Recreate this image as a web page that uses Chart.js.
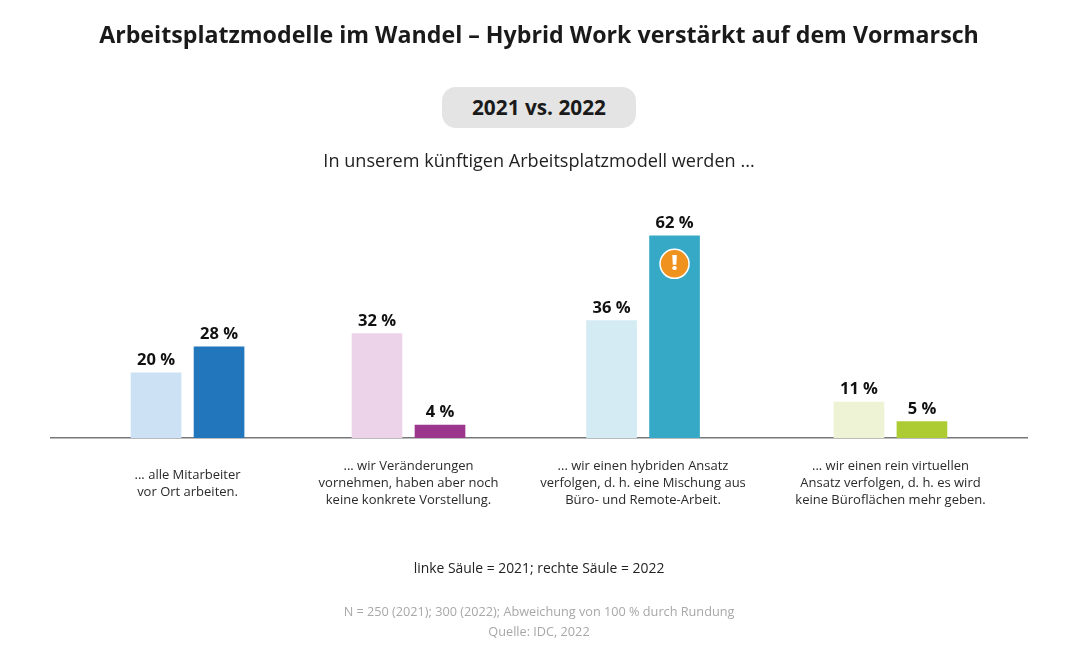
<!DOCTYPE html>
<html lang="de">
<head>
<meta charset="utf-8">
<title>Arbeitsplatzmodelle im Wandel</title>
<script src="https://cdn.jsdelivr.net/npm/chart.js@4/dist/chart.umd.min.js"></script>
<style>
    body{ margin:0; background:#fff; font-family:"Open Sans", sans-serif; color:#1a1a1a; }
    #seite{ position:relative; width:1080px; height:660px; overflow:hidden; }
    canvas{ position:absolute; left:0; top:0; }
    .text{ position:absolute; left:0; width:1080px; text-align:center; white-space:nowrap; }
    #titel{ top:18px; left:-1px; font-size:23.2px; line-height:32px; font-weight:700; }
    #pille{ position:absolute; left:442px; top:87px; width:194px; height:41px; line-height:41px; border-radius:14px; background:#e4e4e4; text-align:center; font-size:20.8px; font-weight:700; }
    #frage{ top:147px; left:-1px; font-size:18.1px; line-height:26px; color:#222; }
    #legende{ top:558px; left:-1px; font-size:13.9px; line-height:20px; color:#222; }
    #quelle{ top:601px; left:-1px; font-size:12.7px; line-height:20px; color:#a8a8a8; }
</style>
</head>
<body>
<div id="seite">
    <canvas id="grafik" width="1080" height="660"></canvas>
    <div class="text" id="titel">Arbeitsplatzmodelle im Wandel – Hybrid Work verstärkt auf dem Vormarsch</div>
    <div id="pille">2021 vs. 2022</div>
    <div class="text" id="frage">In unserem künftigen Arbeitsplatzmodell werden ...</div>
    <div class="text" id="legende">linke Säule = 2021; rechte Säule = 2022</div>
    <div class="text" id="quelle">N = 250 (2021); 300 (2022); Abweichung von 100 % durch Rundung<br>Quelle: IDC, 2022</div>
</div>

<script>
const kategorien = [
    ['... alle Mitarbeiter', 'vor Ort arbeiten.'],
    ['... wir Veränderungen', 'vornehmen, haben aber noch', 'keine konkrete Vorstellung.'],
    ['... wir einen hybriden Ansatz', 'verfolgen, d. h. eine Mischung aus', 'Büro- und Remote-Arbeit.'],
    ['... wir einen rein virtuellen', 'Ansatz verfolgen, d. h. es wird', 'keine Büroflächen mehr geben.']
];
const werte2021 = [20, 32, 36, 11];
const werte2022 = [28, 4, 62, 5];
const farben2021 = ['#cde1f5', '#edd3ea', '#d4ebf3', '#edf3d4'];
const farben2022 = ['#2176bc', '#9b368c', '#36a9c6', '#adcb33'];

// die Gruppen stehen im Original nicht in gleichen Abstaenden
const gruppenMitte = [0.1399, 0.3663, 0.6066, 0.8601];

class GruppenSkala extends Chart.CategoryScale {
    getPixelForValue(wert){
        const index = typeof wert === 'number' ? wert : this.parse(wert);
        return this.getPixelForDecimal(gruppenMitte[index]);
    }

    // kurze Beschriftungen vertikal mittig zum Dreizeiler setzen
    _computeLabelItems(bereich){
        const items = super._computeLabelItems(bereich);
        items.forEach(item => {
            if(Array.isArray(item.label) && item.label.length === 2){
                item.textOffset += item.font.lineHeight / 2;
            }
        });
        return items;
    }
}
GruppenSkala.id = 'gruppen';
Chart.register(GruppenSkala);

const wertBeschriftung = {
    id: 'wertBeschriftung',
    afterDatasetsDraw(chart){
        const ctx = chart.ctx;
        ctx.save();
        ctx.font = '700 16.5px "Open Sans"';
        ctx.fillStyle = '#111';
        ctx.textAlign = 'center';
        ctx.textBaseline = 'alphabetic';
        chart.data.datasets.forEach((dataset, d) => {
            chart.getDatasetMeta(d).data.forEach((balken, i) => {
                ctx.fillText(dataset.data[i] + ' %', balken.x, balken.y - 8);
            });
        });
        ctx.restore();
    }
};

// Ausrufezeichen im 62-%-Balken
const hinweisMarke = {
    id: 'hinweisMarke',
    afterDatasetsDraw(chart){
        const balken = chart.getDatasetMeta(1).data[2];
        const ctx = chart.ctx;
        const y = balken.y + 28;
        ctx.save();
        ctx.beginPath();
        ctx.arc(balken.x, y, 14.5, 0, Math.PI * 2);
        ctx.fillStyle = '#f0931e';
        ctx.fill();
        ctx.lineWidth = 1.5;
        ctx.strokeStyle = '#fff';
        ctx.stroke();
        ctx.font = '800 21px "Open Sans"';
        ctx.fillStyle = '#fff';
        ctx.textAlign = 'center';
        ctx.textBaseline = 'middle';
        ctx.fillText('!', balken.x, y);
        ctx.restore();
    }
};

new Chart(document.getElementById('grafik'), {
    type: 'bar',
    data: {
        labels: kategorien,
        datasets: [
            { label: '2021', data: werte2021, backgroundColor: farben2021 },
            { label: '2022', data: werte2022, backgroundColor: farben2022 }
        ]
    },
    options: {
        responsive: false,
        animation: false,
        barThickness: 63,
        maxBarThickness: 50,
        layout: { padding: { left: 51, right: 53, top: 200, bottom: 0 } },
        plugins: {
            legend: { display: false },
            tooltip: { enabled: false }
        },
        scales: {
            x: {
                type: 'gruppen',
                grid: { display: false, drawTicks: false },
                border: { display: true, color: '#77787a', width: 1.5 },
                afterFit: skala => { skala.height = 222; },
                ticks: {
                    autoSkip: false,
                    maxRotation: 0,
                    minRotation: 0,
                    padding: 20,
                    color: '#2a2a2a',
                    font: { family: '"Open Sans"', size: 13, lineHeight: 1.31 }
                }
            },
            y: {
                display: false,
                min: 0,
                max: 73
            }
        }
    },
    plugins: [wertBeschriftung, hinweisMarke]
});
</script>
</body>
</html>
